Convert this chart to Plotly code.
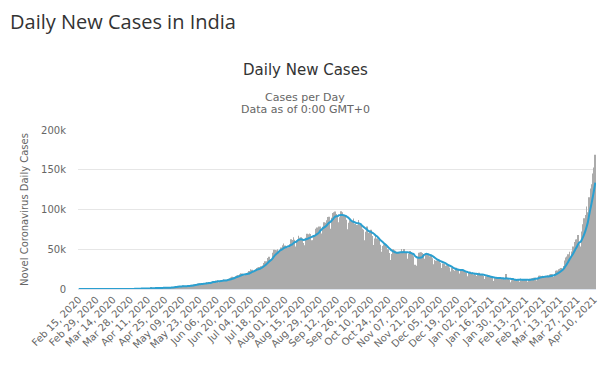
import plotly.graph_objects as go
import pandas as pd

start_date = "2020-02-15"

feb_2020 = [0] * 15
mar_2020 = [0, 2, 1, 22, 2, 1, 3, 5, 9, 15, 8, 10, 10, 12, 13, 6, 23, 14, 38, 50,
            86, 66, 103, 37, 121, 70, 160, 100, 112, 227, 146]
apr_2020 = [601, 545, 478, 577, 354, 704, 508, 485, 591, 896, 768, 918, 905, 1463, 1118,
            1061, 922, 1371, 1580, 1239, 1537, 1292, 1667, 1408, 1835, 1607, 1561, 1873, 1738, 1801]
may_2020 = [2396, 2564, 2952, 3656, 2971, 3602, 3344, 3339, 3175, 4311, 3592, 3562, 3726, 3967,
            3970, 4987, 5242, 4970, 5611, 5609, 6088, 6654, 6767, 6977, 6535, 6387, 6566, 7466,
            8380, 7964, 8789]
jun_2020 = [7723, 8821, 9633, 9889, 9471, 10438, 10864, 8442, 9985, 10956, 11458, 11929, 11502,
            10667, 10974, 12881, 13586, 14516, 15413, 14821, 14933, 15968, 16922, 17296, 18552,
            19906, 19459, 18653, 17400, 18522]
jul_2020 = [19148, 20903, 22771, 24850, 24248, 22252, 22752, 24879, 26506, 27114, 27761, 28637,
            28701, 29429, 32695, 34956, 34884, 38902, 40425, 37148, 37724, 45720, 49310, 48916,
            48661, 49931, 47703, 48513, 52123, 55079, 57118]
aug_2020 = [54735, 52972, 52050, 52509, 56282, 62538, 61537, 65156, 62064, 53601, 60963, 66999,
            64553, 65002, 63490, 57981, 55079, 64531, 69652, 68898, 69878, 69239, 61408, 60975,
            67151, 75760, 77266, 76472, 78761, 78512, 69921]
sep_2020 = [78357, 83883, 83341, 86432, 90632, 90802, 75809, 89706, 95735, 96551, 97570, 94372,
            92071, 83809, 90123, 97894, 96424, 93337, 92605, 86961, 75083, 83347, 86508, 86052,
            85362, 88600, 82170, 70589, 80472, 86821]
oct_2020 = [81484, 79476, 75829, 74442, 61267, 72049, 78524, 70496, 73272, 74383, 66732, 55342,
            63509, 67708, 63371, 62212, 61871, 55722, 46790, 54044, 55839, 54366, 53370, 50129,
            45148, 36469, 43893, 49881, 48648, 48268, 46963]
nov_2020 = [45231, 38310, 46253, 50210, 47638, 50357, 45674, 45903, 38073, 44281, 47905, 44879,
            44878, 41100, 30548, 29164, 38617, 45576, 45882, 46232, 45209, 44059, 37975, 44376,
            44489, 43082, 41322, 41810, 38772, 31118]
dec_2020 = [36604, 35551, 35668, 36652, 36011, 32981, 26567, 32080, 31522, 29398, 30006, 30254,
            27071, 22065, 26382, 24010, 22889, 25152, 26624, 24337, 19556, 23950, 24712, 23067,
            18732, 22273, 20021, 16072, 20550, 21822, 20035]
jan_2021 = [19079, 18177, 18088, 16375, 18088, 20346, 18139, 18222, 18645, 16311, 12584, 15968,
            16946, 15590, 15158, 15144, 13788, 10064, 13823, 15223, 14545, 14256, 14849, 13203,
            9102, 12689, 11666, 18855, 13083, 13052, 11427]
feb_2021 = [8635, 11039, 12899, 12408, 12194, 11713, 11831, 9110, 12923, 11067, 12142, 12143,
            12194, 11649, 9121, 11610, 12881, 13193, 13993, 14264, 14199, 10584, 13742, 16738,
            16577, 16488, 16752, 15510]
mar_2021 = [12286, 14989, 17407, 16838, 18327, 18711, 18599, 15388, 17921, 22854, 23285, 24882,
            25320, 26291, 24492, 28903, 35871, 39726, 40953, 43846, 46951, 40715, 47262, 53476,
            59118, 62258, 62714, 68020, 56211, 53480, 72330]
apr_2021 = [81466, 89129, 92998, 103794, 96563, 115269, 126315, 131893, 145326, 152682, 168865]

daily_cases = (feb_2020 + mar_2020 + apr_2020 + may_2020 + jun_2020 + jul_2020 + aug_2020 +
               sep_2020 + oct_2020 + nov_2020 + dec_2020 + jan_2021 + feb_2021 + mar_2021 + apr_2021)
dates = pd.date_range(start_date, periods=len(daily_cases), freq="D")
moving_avg = pd.Series(daily_cases).rolling(7, min_periods=1).mean()

y_tick_vals = [0, 50000, 100000, 150000, 200000]
y_tick_text = ["0", "50k", "100k", "150k", "200k"]

page_title = "Daily New Cases in India"
chart_title = "Daily New Cases"
subtitle_1 = "Cases per Day"
subtitle_2 = "Data as of 0:00 GMT+0"
y_title = "Novel Coronavirus Daily Cases"

tick_dates = dates[::14]
tick_text = [d.strftime("%b %d, %Y") for d in tick_dates]

fig = go.Figure()
fig.add_trace(go.Bar(x=dates, y=daily_cases, marker=dict(color="#ababab", line=dict(width=0)),
                     width=0.5 * 86400000, name="Daily Cases"))
fig.add_trace(go.Scatter(x=dates, y=moving_avg, mode="lines",
                         line=dict(color="#2a9fd0", width=2, shape="spline", smoothing=0.6),
                         name="7-day moving average"))

# page body has an 8px margin, so figure is 8px smaller and coordinates shifted
W, H = 602, 357
L, R, T, B = 70, 14, 122, 76
ph = H - T - B
pw = W - L - R

def py(px):
    return (H - B - px) / ph

def pxx(px):
    return (px - L) / pw

anns = [
    dict(text=page_title, x=pxx(1), y=py(13.5), xanchor="left", yanchor="middle", borderpad=0,
         font=dict(family="Open Sans", size=20, color="#333333")),
    dict(text=chart_title, x=pxx(297), y=py(62), xanchor="center", yanchor="middle",
         font=dict(family="DejaVu Sans", size=15, color="#333333")),
    dict(text=subtitle_1, x=pxx(297), y=py(89), xanchor="center", yanchor="middle",
         font=dict(family="DejaVu Sans", size=11, color="#666666")),
    dict(text=subtitle_2, x=pxx(297), y=py(101), xanchor="center", yanchor="middle",
         font=dict(family="DejaVu Sans", size=11, color="#666666")),
]
for a in anns:
    a.update(xref="paper", yref="paper", showarrow=False)

fig.update_layout(
    width=W, height=H,
    margin=dict(l=L, r=R, t=T, b=B, autoexpand=False),
    paper_bgcolor="white", plot_bgcolor="white",
    showlegend=False,
    annotations=anns,
    font=dict(family="DejaVu Sans", size=10, color="#666666"),
)
fig.update_xaxes(
    type="date",
    range=[dates[0] - pd.Timedelta(hours=14), dates[-1] + pd.Timedelta(hours=14)],
    tickvals=tick_dates, ticktext=tick_text, tickangle=-45,
    tickfont=dict(family="DejaVu Sans", size=10, color="#666666"),
    showgrid=False, showline=True, linecolor="#e0e6ef", linewidth=1,
    ticks="", zeroline=False,
)
fig.update_yaxes(
    range=[0, 200000], tickvals=y_tick_vals, ticktext=y_tick_text,
    tickfont=dict(family="DejaVu Sans", size=10, color="#666666"),
    showgrid=True, gridcolor="#e6e6e6", gridwidth=1, zeroline=False,
    title=dict(text=y_title, font=dict(family="DejaVu Sans", size=10, color="#666666"), standoff=10),
    ticklabelstandoff=11,
)

fig.write_html("out.html")
